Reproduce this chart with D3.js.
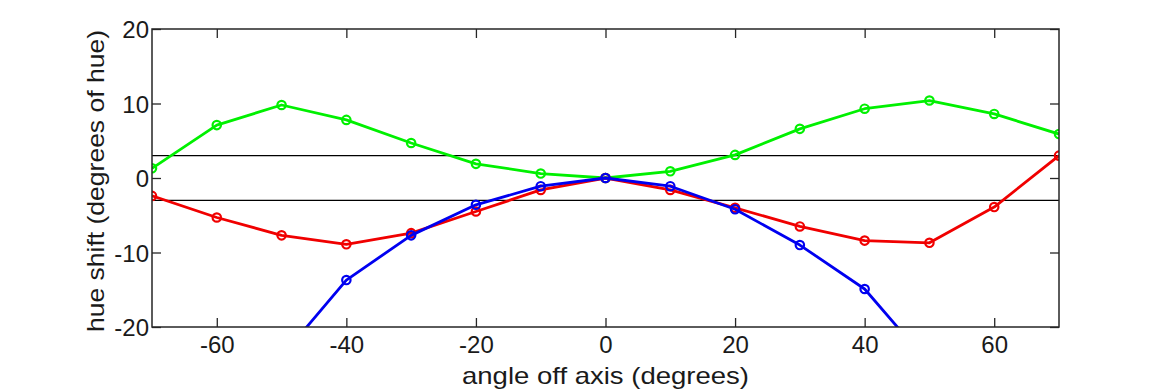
<!DOCTYPE html>
<html>
<head>
<meta charset="utf-8">
<script src="https://cdn.jsdelivr.net/npm/d3@7"></script>
<style>
  html, body { margin: 0; padding: 0; background: #fff; }
  svg { display: block; font-family: "Liberation Sans", Arial, Helvetica, sans-serif; }
</style>
</head>
<body>
<svg id="chart" width="1170" height="390"></svg>
<script>
// Data
const angles = [-70, -60, -50, -40, -30, -20, -10, 0, 10, 20, 30, 40, 50, 60, 70];
const greenShift = [1.3, 7.1, 9.8, 7.8, 4.7, 1.9, 0.6, 0, 0.9, 3.1, 6.6, 9.3, 10.4, 8.6, 5.9];
const redShift = [-2.4, -5.3, -7.7, -8.9, -7.4, -4.5, -1.6, 0, -1.6, -4.0, -6.5, -8.4, -8.7, -3.9, 3.0];
const blueAngles = [-50, -40, -30, -20, -10, 0, 10, 20, 30, 40, 50];
const blueShift = [-24.0, -13.7, -7.7, -3.6, -1.1, 0, -1.1, -4.2, -9.0, -14.9, -25.0];
const thresholds = [3, -3];
const xTicks = [-60, -40, -20, 0, 20, 40, 60];
const yTicks = [-20, -10, 0, 10, 20];

const svg = d3.select("#chart");
const L = 152, R = 1059, T = 29, B = 327;
const x = d3.scaleLinear().domain([-70, 70]).range([L, R]);
const y = d3.scaleLinear().domain([-20, 20]).range([B, T]);
const axisColor = "#262626";
const textColor = "#1a1a1a";
const fs = 24;
const fmt = d => String(d); // plain hyphen-minus, as in reference

svg.append("defs").append("clipPath").attr("id", "clip")
  .append("rect").attr("x", L).attr("y", T).attr("width", R - L).attr("height", B - T);

// threshold lines
svg.append("g").selectAll("line").data(thresholds).join("line")
  .attr("x1", L).attr("x2", R)
  .attr("y1", d => y(d)).attr("y2", d => y(d))
  .attr("stroke", "#000").attr("stroke-width", 1.3);

// series
const series = [
  { xs: angles, ys: greenShift, color: "#00f000" },
  { xs: angles, ys: redShift, color: "#f00000" },
  { xs: blueAngles, ys: blueShift, color: "#0000f0" }
];
const line = d3.line().x(d => x(d[0])).y(d => y(d[1]));
const plot = svg.append("g").attr("clip-path", "url(#clip)");
series.forEach(s => {
  const pts = s.xs.map((a, i) => [a, s.ys[i]]);
  plot.append("path").datum(pts)
    .attr("d", line).attr("fill", "none")
    .attr("stroke", s.color).attr("stroke-width", 2.8).attr("stroke-linejoin", "round");
  plot.append("g").selectAll("circle").data(pts).join("circle")
    .attr("cx", d => x(d[0])).attr("cy", d => y(d[1])).attr("r", 4.2)
    .attr("fill", "none").attr("stroke", s.color).attr("stroke-width", 2.2);
});

// axes (box with inward ticks)
const tickLen = 9;
const axB = svg.append("g").attr("transform", `translate(0,${B})`)
  .call(d3.axisBottom(x).tickValues(xTicks).tickSizeInner(-tickLen).tickSizeOuter(0).tickFormat(fmt));
const axT = svg.append("g").attr("transform", `translate(0,${T})`)
  .call(d3.axisTop(x).tickValues(xTicks).tickSizeInner(-tickLen).tickSizeOuter(0).tickFormat(""));
const axL = svg.append("g").attr("transform", `translate(${L},0)`)
  .call(d3.axisLeft(y).tickValues(yTicks).tickSizeInner(-tickLen).tickSizeOuter(0).tickFormat(fmt));
const axR = svg.append("g").attr("transform", `translate(${R},0)`)
  .call(d3.axisRight(y).tickValues(yTicks).tickSizeInner(-tickLen).tickSizeOuter(0).tickFormat(""));
[axB, axT, axL, axR].forEach(a => {
  a.select(".domain").remove();
  a.selectAll("line").attr("stroke", axisColor).attr("stroke-width", 1.3);
  a.selectAll("text").attr("fill", textColor).attr("font-size", fs)
    .attr("font-family", '"Liberation Sans", Arial, sans-serif');
});
axB.selectAll("text").attr("y", 26).attr("dy", "0");
axL.selectAll("text").attr("x", -3).attr("dy", "0.36em");

svg.append("rect").attr("x", L).attr("y", T).attr("width", R - L).attr("height", B - T)
  .attr("fill", "none").attr("stroke", axisColor).attr("stroke-width", 1.5);

// axis labels
svg.append("text").attr("x", (L + R) / 2).attr("y", 384).attr("text-anchor", "middle")
  .attr("font-size", fs).attr("fill", textColor)
  .attr("textLength", 287).attr("lengthAdjust", "spacingAndGlyphs")
  .text("angle off axis (degrees)");
svg.append("text").attr("transform", `translate(104,${(T + B) / 2 + 3}) rotate(-90)`)
  .attr("text-anchor", "middle").attr("font-size", fs).attr("fill", textColor)
  .attr("textLength", 302).attr("lengthAdjust", "spacingAndGlyphs")
  .text("hue shift (degrees of hue)");
</script>
</body>
</html>
